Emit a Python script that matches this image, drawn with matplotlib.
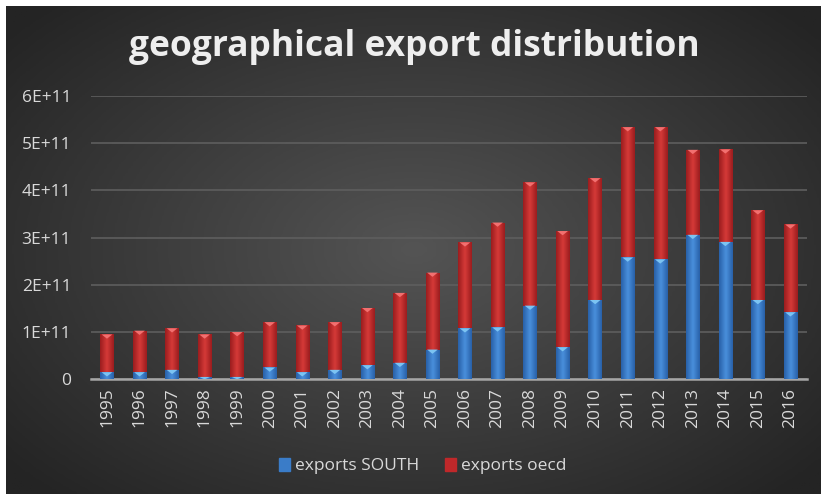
import numpy as np
import matplotlib.pyplot as plt
from matplotlib.colors import LinearSegmentedColormap
from matplotlib.patches import Polygon

years = [str(y) for y in range(1995, 2017)]
totals = [0.95, 1.03, 1.08, 0.95, 1.00, 1.21, 1.14, 1.21, 1.51, 1.83, 2.26,
          2.90, 3.32, 4.17, 3.14, 4.26, 5.34, 5.34, 4.86, 4.87, 3.58, 3.28]
south = [0.15, 0.15, 0.20, 0.05, 0.05, 0.25, 0.15, 0.20, 0.30, 0.35, 0.63,
         1.08, 1.10, 1.56, 0.68, 1.68, 2.58, 2.54, 3.06, 2.91, 1.68, 1.42]

south = np.array(south) * 1e11
oecd = np.array(totals) * 1e11 - south

TXT = "#d9d9d9"


def shade_bars(ax, bars, dark, light, tip):
    # cylinder-like horizontal gradient, clipped to each bar, plus a small chevron on top
    cmap = LinearSegmentedColormap.from_list("g", [dark, light, dark])
    grad = np.linspace(0, 1, 64).reshape(1, -1)
    for b in bars:
        x0, y0 = b.get_x(), b.get_y()
        w, h = b.get_width(), b.get_height()
        if h <= 0:
            continue
        im = ax.imshow(grad, cmap=cmap, aspect="auto", zorder=3,
                       extent=(x0, x0 + w, y0, y0 + h), interpolation="bicubic")
        im.set_clip_path(b)
        th = min(0.09e11, h)
        tri = Polygon([(x0 + 0.1 * w, y0 + h), (x0 + 0.9 * w, y0 + h),
                       (x0 + 0.5 * w, y0 + h - th)], closed=True,
                      color=tip, lw=0, zorder=4)
        ax.add_patch(tri)


fig = plt.figure(figsize=(8.21, 4.94), dpi=100)
fig.patch.set_facecolor("white")

# dark radial background (white strip at top/left like the reference)
bg = fig.add_axes([6 / 821, 0, 815 / 821, 488 / 494])
yy, xx = np.mgrid[-1:1:200j, -1:1:300j]
r = np.sqrt((xx * 0.95) ** 2 + (yy * 0.9) ** 2)
bg_cmap = LinearSegmentedColormap.from_list("bg", ["#545454", "#3c3c3c", "#242424"])
bg.imshow(r, cmap=bg_cmap, aspect="auto", extent=(0, 1, 0, 1), vmin=0, vmax=1.25)
bg.axis("off")

ax = fig.add_axes([90.7 / 821, (494 - 379.3) / 494, 716 / 821, 283.3 / 494])
ax.patch.set_alpha(0)

x = np.arange(len(years))
w = 0.41
b1 = ax.bar(x, south, w, color="#3a7cc8", zorder=2, label="exports SOUTH")
b2 = ax.bar(x, oecd, w, bottom=south, color="#c0282a", zorder=2, label="exports oecd")
shade_bars(ax, b1, "#2860a8", "#4a90dc", "#7cc4f2")
shade_bars(ax, b2, "#9a1c1e", "#d63a38", "#f27070")

ax.set_xlim(-0.5, len(years) - 0.5)
ax.set_ylim(0, 6e11)
ax.set_yticks(np.arange(0, 7) * 1e11)
ax.set_yticklabels(["0", "1E+11", "2E+11", "3E+11", "4E+11", "5E+11", "6E+11"])
ax.set_xticks(x)
ax.set_xticklabels(years, rotation=90)
ax.tick_params(colors=TXT, labelsize=12.5, length=0)
ax.tick_params(axis="y", pad=14)
ax.tick_params(axis="x", pad=6)
for lab in ax.get_xticklabels() + ax.get_yticklabels():
    lab.set_family("Open Sans")
ax.yaxis.grid(True, color="#5e5e5e", lw=1.2, zorder=0)
ax.set_axisbelow(True)
for s in ["top", "right", "left"]:
    ax.spines[s].set_visible(False)
ax.spines["bottom"].set_color("#a6a6a6")
ax.spines["bottom"].set_linewidth(1.8)

fig.text(414 / 821, 1 - 47 / 494, "geographical export distribution",
         ha="center", va="center", color="#eeeeee", fontsize=25.5,
         fontweight="bold", family="Open Sans")

handles = [plt.Rectangle((0, 0), 1, 1, color="#3a7cc8"),
           plt.Rectangle((0, 0), 1, 1, color="#c0282a")]
fig.legend(handles, ["exports SOUTH", "exports oecd"], loc="center",
           bbox_to_anchor=(423 / 821, 1 - 466 / 494), ncol=2, frameon=False,
           labelcolor=TXT, handlelength=0.6, handleheight=0.8,
           handletextpad=0.3, columnspacing=1.5, prop={"family": "Open Sans", "size": 12.5})

fig.savefig("out.png", dpi=100)
